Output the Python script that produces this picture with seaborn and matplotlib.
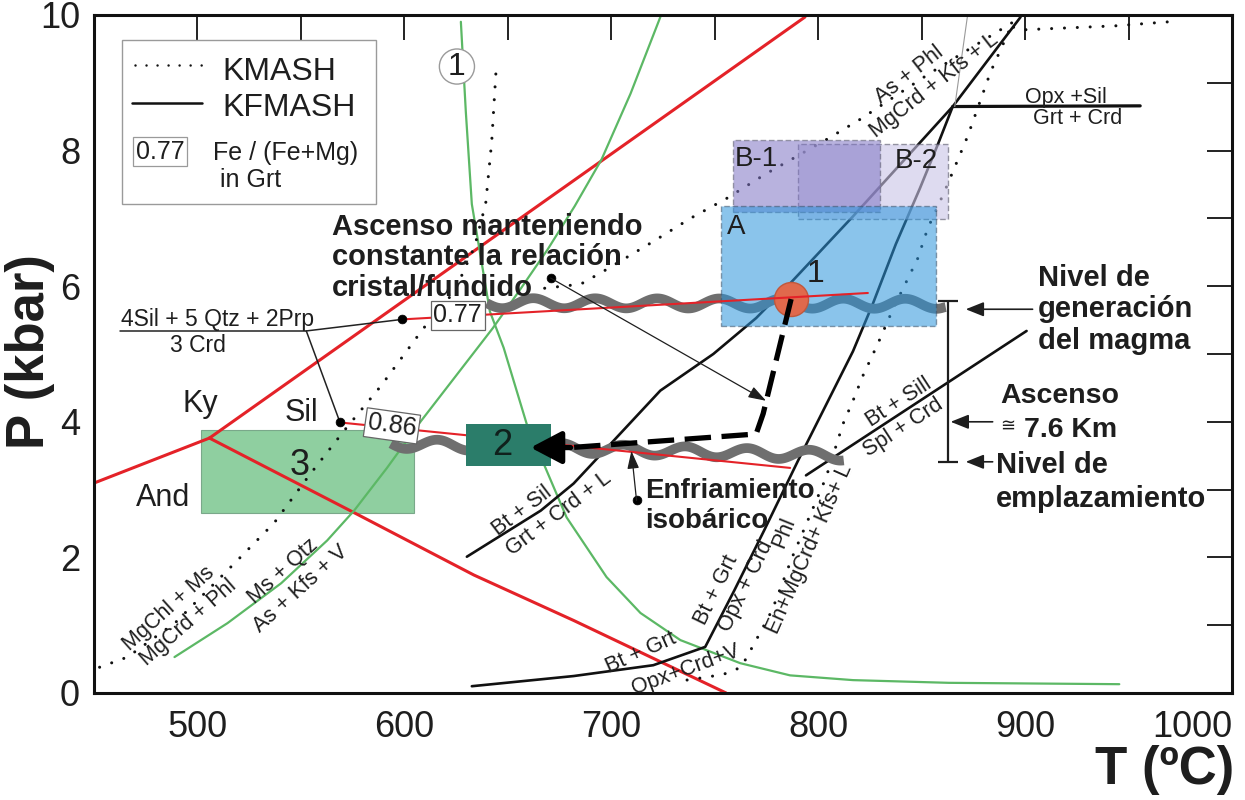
import matplotlib
matplotlib.use("Agg")
import matplotlib.pyplot as plt
from matplotlib.patches import Rectangle
import seaborn as sns

sns.set_style("white")
plt.rcParams['font.family'] = ['Liberation Sans', 'DejaVu Sans']
plt.rcParams['axes.linewidth'] = 2.2

# ---------------- data (T in ºC, P in kbar) ----------------
# Al2SiO5 boundaries (red)
ky_and_t = [450.3, 505.8]
ky_and_p = [3.10, 3.76]
ky_sil_t = [505.8, 793.6]
ky_sil_p = [3.76, 9.97]
and_sil_t = [505.8, 575.7, 633.6, 681.8, 755.5]
and_sil_p = [3.76, 2.66, 1.74, 1.07, 0.0]

# Fe/(Fe+Mg) in garnet isopleths (red, thin)
iso077_t = [598.8, 824.0]
iso077_p = [5.51, 5.90]
iso086_t = [568.9, 786.4]
iso086_p = [3.99, 3.32]

# green curves
green1_t = [627.3, 629.7, 632.6, 641.3, 648.0, 659.1, 678.4, 697.7, 714.1,
            733.4, 762.3, 786.4, 816.8, 863.1, 945.5]
green1_p = [9.90, 8.57, 7.21, 5.63, 5.09, 3.97, 2.59, 1.71, 1.18,
            0.78, 0.44, 0.26, 0.19, 0.15, 0.13]
green2_t = [488.9, 514.5, 540.5, 562.7, 575.7, 591.6, 608.0, 642.7, 655.7,
            669.2, 682.3, 695.3, 709.3, 723.7]
green2_p = [0.53, 1.03, 1.62, 2.25, 2.69, 3.32, 4.01, 5.38, 5.94,
            6.54, 7.18, 7.87, 8.84, 9.97]

# KMASH reactions (dotted)
kmA_t = [452.7, 466.2, 489.4, 517.8, 537.1, 554.0, 570.9, 588.7, 609.0,
         624.4, 634.0, 639.3, 642.2, 644.2]
kmA_p = [0.38, 0.53, 1.04, 1.91, 2.51, 3.21, 3.87, 4.53, 5.37,
         5.93, 6.59, 7.22, 8.13, 9.13]
kmB_t = [667.8, 685.2, 696.2, 720.3, 738.2, 755.5, 774.3, 803.8, 820.2, 853.4, 894.4]
kmB_p = [5.97, 6.03, 6.22, 6.66, 7.00, 7.29, 7.65, 8.16, 8.46, 9.13, 9.90]
kmC_t = [892.0, 883.3, 872.2, 861.1, 852.9, 848.1, 836.1, 828.8, 821.6, 816.8,
         812.0, 803.8, 787.4, 777.7, 770.0, 762.8, 754.6, 747.3, 736.3]
kmC_p = [9.75, 9.16, 8.21, 7.40, 6.85, 6.41, 5.66, 5.15, 4.68, 4.31,
         3.97, 3.18, 2.00, 1.22, 0.78, 0.38, 0.28, 0.24, 0.19]
kmD_t = [894.4, 897.8, 943.6, 969.6]
kmD_p = [9.82, 9.78, 9.84, 9.90]

# KFMASH reactions (solid black)
kf1_t = [630.2, 665.9, 681.8, 701.1, 723.7, 749.3, 770.0, 786.4, 816.8, 865.0, 897.8]
kf1_p = [2.01, 2.69, 3.09, 3.72, 4.46, 5.00, 5.53, 6.04, 7.03, 8.65, 9.97]
kf2_t = [632.6, 681.8, 720.3, 745.4, 759.4, 773.9, 790.3, 816.8, 826.4, 837.5,
         849.1, 857.8, 865.0]
kf2_p = [0.10, 0.25, 0.41, 0.68, 1.51, 2.40, 3.43, 5.04, 5.74, 6.62,
         7.44, 8.09, 8.65]
kf3_t = [865.0, 955.6]
kf3_p = [8.65, 8.66]
kf4_t = [794.1, 900.7]
kf4_p = [3.21, 5.34]
thin_t = [866.0, 872.2]
thin_p = [8.65, 10.0]

# P-T path of the magma
path_t = [786.9, 773.4, 770.0, 680.3]
path_p = [5.81, 4.12, 3.82, 3.62]
path_tip = (661.0, 3.62)
wave_hi_t = [639.8, 861.6]
wave_hi_p = [5.75, 5.74]
wave_lo_t = [593.5, 812.4]
wave_lo_p = [3.68, 3.50]
magma_t = [786.9]
magma_p = [5.81]
dots_t = [598.8, 568.9, 670.7, 712.2]
dots_p = [5.51, 3.99, 6.12, 2.84]

# P-T boxes: (Tmin, Tmax, Pmin, Pmax)
box_a = (753.1, 856.8, 5.41, 7.18)
box_b1 = (758.9, 829.8, 7.10, 8.16)
box_b2 = (790.3, 862.6, 6.99, 8.09)
box_2 = (629.7, 670.7, 3.35, 3.97)
box_3 = (501.9, 604.6, 2.66, 3.88)

# ascent bar
ascent_t = [862.6]
ascent_mid = [4.59]
ascent_half = [1.19]

RED = '#e42228'
GREEN = '#5cb865'
TXT = '#1e1e1e'
DOT = (0, (0.01, 4.2))

fig = plt.figure(figsize=(12.45, 8), dpi=100)
ax = fig.add_axes([0.0755, 0.13375, 0.9141, 0.8475])


def draw(t, p, **kw):
    sns.lineplot(x=t, y=p, sort=False, estimator=None, ax=ax, **kw)
    return ax.lines[-1]


def box(b, **kw):
    ax.add_patch(Rectangle((b[0], b[2]), b[1] - b[0], b[3] - b[2], **kw))


# --- boxes under the lines ---
box(box_3, facecolor='#8fcfa0', edgecolor='#7aa88a', lw=0.8, zorder=1)

# --- red lines ---
draw(ky_and_t, ky_and_p, color=RED, lw=2.2, zorder=2)
draw(ky_sil_t, ky_sil_p, color=RED, lw=2.2, zorder=2)
draw(and_sil_t, and_sil_p, color=RED, lw=2.2, zorder=2)

# --- green lines ---
draw(green1_t, green1_p, color=GREEN, lw=1.6, zorder=2)
draw(green2_t, green2_p, color=GREEN, lw=1.6, zorder=2)

# --- KFMASH / KMASH ---
for t, p in [(kf1_t, kf1_p), (kf2_t, kf2_p), (kf4_t, kf4_p)]:
    draw(t, p, color='#111111', lw=1.9, zorder=2)
draw(kf3_t, kf3_p, color='#111111', lw=2.3, zorder=2)
draw(thin_t, thin_p, color='#9a9a9a', lw=0.8, zorder=2)
for t, p in [(kmA_t, kmA_p), (kmB_t, kmB_p), (kmC_t, kmC_p), (kmD_t, kmD_p)]:
    draw(t, p, color='#111111', lw=2.2, linestyle=DOT, dash_capstyle='round', zorder=2)

# --- wavy ascent lines ---
for t, p in [(wave_hi_t, wave_hi_p), (wave_lo_t, wave_lo_p)]:
    ln = draw(t, p, color='#6f6f6f', lw=7, zorder=3, solid_capstyle='butt')
    ln.set_sketch_params(5, 62, 1)

# --- translucent boxes ---
box(box_b2, facecolor='#c9c3e6', alpha=0.6, edgecolor='#555566', ls=(0, (4, 2)), lw=1, zorder=4)
box(box_b1, facecolor='#7e74c4', alpha=0.55, edgecolor='#555566', ls=(0, (4, 2)), lw=1, zorder=4)
box(box_a, facecolor='#2b95dc', alpha=0.55, edgecolor='#3a4f66', ls=(0, (4, 2)), lw=1, zorder=4)

# --- isopleths ---
draw(iso077_t, iso077_p, color=RED, lw=1.5, zorder=6)
draw(iso086_t, iso086_p, color=RED, lw=1.5, zorder=6)

# magma generation point and path
sns.scatterplot(x=magma_t, y=magma_p, s=600, color='#e0694c', edgecolor='#c0583c',
                linewidth=1, ax=ax, zorder=5)
draw(path_t, path_p, color='black', lw=3.8, linestyle=(0, (5, 2)), zorder=7)
ax.annotate('', xy=path_tip, xytext=(path_t[-1], path_p[-1]),
            arrowprops=dict(arrowstyle='-|>,head_length=0.95,head_width=0.5',
                            color='black', lw=3.8, shrinkA=0, shrinkB=0,
                            mutation_scale=20), zorder=8)
box(box_2, facecolor='#2b7d6a', edgecolor='none', zorder=7)
sns.scatterplot(x=dots_t, y=dots_p, s=40, color='black', edgecolor='black', ax=ax, zorder=8)

# ascent bar with arrows
ax.errorbar(ascent_t, ascent_mid, yerr=[ascent_half, ascent_half], fmt='none',
            ecolor=TXT, elinewidth=1.6, capsize=7, capthick=1.6, zorder=6)
small_head = dict(arrowstyle='-|>,head_length=0.55,head_width=0.22', color=TXT,
                  lw=1.2, shrinkA=0, shrinkB=0, mutation_scale=20)
for tail, tip in [((903.6, 5.66), (871.3, 5.66)), ((884.3, 4.0), (864.0, 4.0)),
                  ((884.3, 3.41), (871.3, 3.41))]:
    ax.annotate('', xy=tip, xytext=tail, arrowprops=small_head, zorder=8)

thin_head = dict(arrowstyle='-|>,head_length=0.6,head_width=0.2', color=TXT,
                 lw=0.9, shrinkA=0, shrinkB=0, mutation_scale=18)
ax.annotate('', xy=(774.8, 4.31), xytext=(670.7, 6.12), arrowprops=thin_head, zorder=8)
ax.annotate('', xy=(709.7, 3.57), xytext=(712.2, 2.84), arrowprops=thin_head, zorder=8)

# reaction 4Sil + 5Qtz + 2Prp = 3Crd with leaders
ax.plot([462.4, 552.6], [5.34, 5.34], color='#222222', lw=1.1, zorder=6)
ax.plot([552.6, 598.8], [5.34, 5.51], color='#222222', lw=1.1, zorder=6)
ax.plot([552.6, 568.9], [5.34, 3.99], color='#222222', lw=1.1, zorder=6)
ax.text(509.6, 5.51, '4Sil + 5 Qtz + 2Prp', fontsize=16.5, ha='center', va='center', color=TXT, zorder=9)
ax.text(500.0, 5.12, '3 Crd', fontsize=16.5, ha='center', va='center', color=TXT, zorder=9)

lbl_box = dict(boxstyle='square,pad=0.1', fc='white', ec='#666666', lw=0.9)
ax.text(625.8, 5.57, '0.77', fontsize=18, ha='center', va='center', color=TXT, bbox=lbl_box, zorder=9)
ax.text(594.0, 3.94, '0.86', fontsize=18, ha='center', va='center', color=TXT,
        rotation=-8, bbox=lbl_box, zorder=9)

# field labels
for t, p, s in [(501.4, 4.26, 'Ky'), (550.1, 4.13, 'Sil'), (483.6, 2.87, 'And')]:
    ax.text(t, p, s, fontsize=22, ha='center', va='center', color=TXT, zorder=9)
ax.text(549.2, 3.35, '3', fontsize=26, ha='center', va='center', color=TXT, zorder=9)
ax.text(647.1, 3.65, '2', fontsize=26, ha='center', va='center', color='#10201c', zorder=9)
ax.text(760.4, 6.88, 'A', fontsize=20, ha='center', va='center', color=TXT, zorder=9)
ax.text(770.0, 7.88, 'B-1', fontsize=20, ha='center', va='center', color=TXT, zorder=9)
ax.text(847.2, 7.84, 'B-2', fontsize=20, ha='center', va='center', color=TXT, zorder=9)
ax.text(798.9, 6.18, '1', fontsize=23, ha='center', va='center', color=TXT, zorder=9)
ax.text(625.4, 9.24, '1', fontsize=23, ha='center', va='center', color=TXT, zorder=9,
        bbox=dict(boxstyle='circle,pad=0.08', fc='white', ec='#9a9a9a', lw=1))

# reaction labels along the curves
rot_labels = [
    (844.3, 9.12, 'As + Phl', 38), (856.3, 8.96, 'MgCrd + Kfs + L', 38),
    (839.0, 4.29, 'Bt + Sill', 33), (840.9, 3.91, 'Spl + Crd', 33),
    (656.7, 2.69, 'Bt + Sil', 37), (674.5, 2.65, 'Grt + Crd + L', 37),
    (751.0, 1.52, 'Bt + Grt', 64), (765.0, 1.58, 'Opx + Crd', 64),
    (783.5, 2.37, 'Phl', 68), (796.0, 2.13, 'En+MgCrd+ Kfs+ L', 66),
    (714.1, 0.59, 'Bt + Grt', 24), (735.8, 0.34, 'Opx+Crd+V', 20),
    (486.0, 1.25, 'MgChl + Ms', 42), (495.7, 1.04, 'MgCrd + Phl', 41),
    (541.5, 1.79, 'Ms + Qtz', 42), (549.7, 1.54, 'As + Kfs + V', 42),
    (919.5, 8.78, 'Opx +Sil', 0), (925.3, 8.47, 'Grt + Crd', 0),
]
for t, p, s, a in rot_labels:
    ax.text(t, p, s, fontsize=15.5, rotation=a, rotation_mode='anchor',
            ha='center', va='center', color=TXT, zorder=9)


def block(t, p, lines, step, dx=0, **kw):
    for i, s in enumerate(lines):
        ax.annotate(s, (t, p), xytext=(dx, -i * step), textcoords='offset points',
                    ha='left', va='baseline', color=TXT, fontweight='bold', zorder=9, **kw)


block(565.1, 6.76, ['Ascenso manteniendo', 'constante la relación', 'cristal/fundido'], 22, fontsize=21)
block(716.5, 2.88, ['Enfriamiento', 'isobárico'], 21.6, fontsize=20)
block(906.0, 6.01, ['Nivel de', 'generación', 'del magma'], 23, fontsize=21)
block(888.1, 4.27, ['Ascenso'], 20, fontsize=20.5)
ax.annotate('≅', (888.1, 4.27), xytext=(0, -20), textcoords='offset points',
            ha='left', va='baseline', color=TXT, fontsize=13, zorder=9)
block(888.1, 3.77, ['7.6 Km'], 20, dx=17, fontsize=20.5)
block(885.7, 3.24, ['Nivel de', 'emplazamiento'], 24.5, fontsize=21)

# --- legend ---
tr = ax.transAxes
ax.add_patch(Rectangle((0.0246, 0.721), 0.2232, 0.242, transform=tr, fc='white',
                       ec='#9a9a9a', lw=1, zorder=10))
ax.plot([0.036, 0.095], [0.926, 0.926], transform=tr, color='#111111', lw=1.8,
        linestyle=(0, (0.01, 4.4)), dash_capstyle='round', zorder=11)
ax.plot([0.0334, 0.0949], [0.870, 0.870], transform=tr, color='#111111', lw=1.8, zorder=11)
ax.text(0.1125, 0.916, 'KMASH', transform=tr, fontsize=23, va='center', color=TXT, zorder=11)
ax.text(0.1125, 0.863, 'KFMASH', transform=tr, fontsize=23, va='center', color=TXT, zorder=11)
ax.text(0.058, 0.798, '0.77', transform=tr, fontsize=18, ha='center', va='center', color=TXT,
        bbox=dict(boxstyle='square,pad=0.1', fc='white', ec='#9a9a9a', lw=0.9), zorder=11)
ax.text(0.1046, 0.796, 'Fe / (Fe+Mg)', transform=tr, fontsize=18, va='center', color=TXT, zorder=11)
ax.text(0.1107, 0.757, 'in Grt', transform=tr, fontsize=18, va='center', color=TXT, zorder=11)

# --- axes ---
ax.set_xlim(450, 1000)
ax.set_ylim(0, 10)
ax.set_xticks(range(500, 1001, 100))
ax.set_xticks(range(450, 1001, 50), minor=True)
ax.set_yticks(range(0, 11, 2))
ax.set_yticks(range(0, 11, 1), minor=True)
ax.tick_params(which='both', direction='in', length=18, width=1.3, top=True, right=True,
               colors='#111111', labelcolor=TXT)
ax.tick_params(axis='x', labelsize=26, pad=12)
ax.tick_params(axis='y', labelsize=26, pad=10)
ax.get_xticklabels()[-1].set_horizontalalignment('right')
for s in ax.spines.values():
    s.set_color('#111111')
    s.set_linewidth(2.2)

ax.set_xlabel('T (ºC)', fontsize=38, fontweight='bold', va='center', color=TXT)
ax.xaxis.set_label_coords(0.941, -0.1136)
ax.set_ylabel('P (kbar)', fontsize=38, fontweight='bold', va='center', color=TXT)
ax.yaxis.set_label_coords(-0.056, 0.503)

fig.savefig('out.png', dpi=100)
